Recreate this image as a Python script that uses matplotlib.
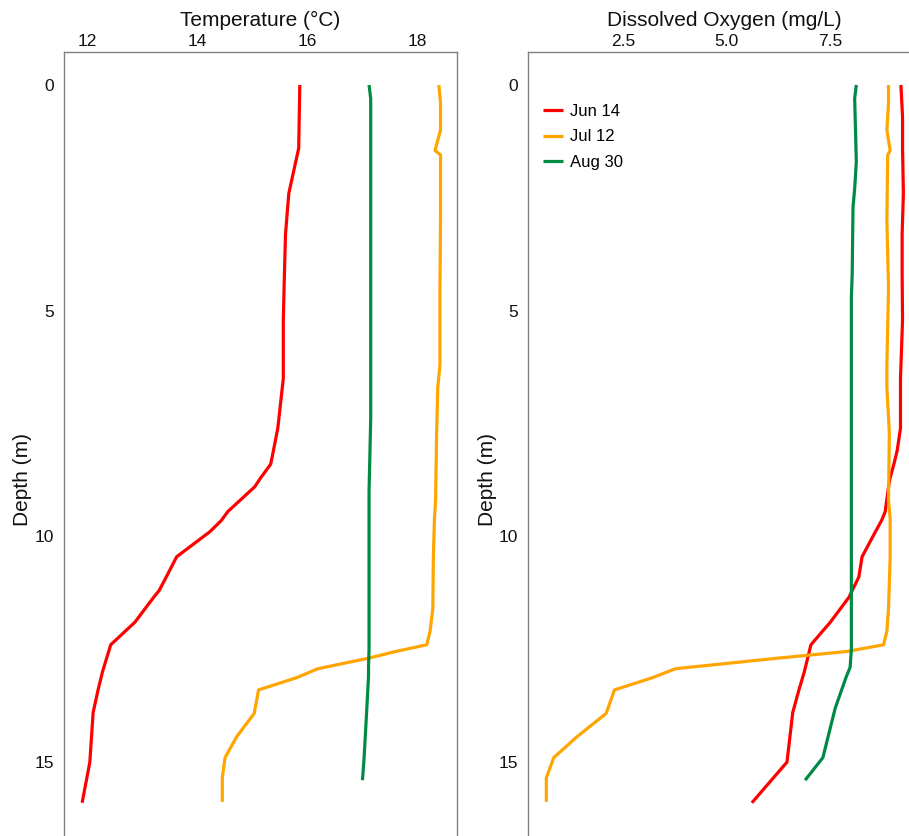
import matplotlib
matplotlib.use("Agg")
import matplotlib.pyplot as plt

plt.rcParams['font.family'] = ['Liberation Sans', 'DejaVu Sans']

# ---------------- data ----------------
dates = ["Jun 14", "Jul 12", "Aug 30"]
colors = ["#FF0000", "#FFA500", "#008B45"]

depth_jun = [0, 0.7, 1.4, 2.4, 3.3, 4.2, 5.2, 6.5, 7.6, 8.1, 8.4, 8.7, 8.9, 9.45, 9.65,
             9.9, 10.45, 10.9, 11.2, 11.35, 11.9, 12.4, 13.0, 13.4, 13.9, 15.0, 15.9]
temp_jun = [15.86, 15.85, 15.84, 15.66, 15.60, 15.58, 15.56, 15.56, 15.46, 15.38, 15.33,
            15.15, 15.04, 14.55, 14.43, 14.22, 13.62, 13.43, 13.30, 13.20, 12.86, 12.42,
            12.27, 12.19, 12.10, 12.04, 11.90]
do_jun = [9.22, 9.26, 9.26, 9.28, 9.25, 9.25, 9.26, 9.21, 9.21, 9.13, 9.05, 8.96, 8.92,
          8.84, 8.75, 8.60, 8.28, 8.20, 8.04, 7.96, 7.51, 7.04, 6.88, 6.75, 6.60, 6.46, 5.61]

depth_jul = [0, 0.4, 1.0, 1.45, 1.55, 3.0, 4.5, 6.2, 6.7, 7.7, 9.2, 9.6, 10.45, 11.6,
             12.1, 12.4, 12.55, 12.7, 12.93, 13.13, 13.4, 13.92, 14.44, 14.9, 15.35, 15.88]
temp_jul = [18.39, 18.42, 18.42, 18.32, 18.42, 18.42, 18.41, 18.41, 18.37, 18.35, 18.33,
            18.31, 18.29, 18.28, 18.23, 18.17, 17.60, 17.10, 16.19, 15.80, 15.11, 15.03,
            14.71, 14.50, 14.45, 14.45]
do_jul = [8.92, 8.92, 8.88, 8.96, 8.90, 8.88, 8.92, 8.88, 8.88, 8.94, 8.92, 8.96, 8.96,
          8.92, 8.88, 8.80, 7.90, 6.20, 3.76, 3.20, 2.28, 2.08, 1.37, 0.81, 0.63, 0.63]

depth_aug = [0, 0.3, 1.7, 2.3, 2.7, 4.2, 4.7, 6.0, 7.4, 9.0, 11.0, 12.5, 12.9, 13.1,
             13.8, 14.9, 15.4]
temp_aug = [17.12, 17.15, 17.15, 17.15, 17.15, 17.15, 17.15, 17.15, 17.15, 17.12, 17.12,
            17.12, 17.11, 17.11, 17.08, 17.03, 17.00]
do_aug = [8.14, 8.10, 8.14, 8.10, 8.06, 8.04, 8.02, 8.02, 8.02, 8.02, 8.02, 8.02, 7.99,
          7.90, 7.63, 7.33, 6.90]

temp_ticks = [12, 14, 16, 18]
do_ticks = [2.5, 5.0, 7.5]
do_tick_labels = ["2.5", "5.0", "7.5"]
depth_ticks = [0, 5, 10, 15]

depths = [depth_jun, depth_jul, depth_aug]
temps = [temp_jun, temp_jul, temp_aug]
dos = [do_jun, do_jul, do_aug]

# ---------------- figure ----------------
W, H = 909, 836
fig = plt.figure(figsize=(W / 100, H / 100), dpi=100)

top_px = 52
bot_px = 875
ax1 = fig.add_axes([64 / W, 1 - bot_px / H, 393 / W, (bot_px - top_px) / H])
ax2 = fig.add_axes([527.7 / W, 1 - bot_px / H, 392.6 / W, (bot_px - top_px) / H])

for d, t, c, lab in zip(depths, temps, colors, dates):
    ax1.plot(t, d, color=c, lw=2.3, solid_capstyle='butt', label=lab)
for d, o, c, lab in zip(depths, dos, colors, dates):
    ax2.plot(o, d, color=c, lw=2.3, solid_capstyle='butt', label=lab)

ylim = (17.5, -0.731)
ax1.set_xlim(11.57, 18.72)
ax2.set_xlim(0.179, 9.69)

for ax in (ax1, ax2):
    ax.set_ylim(*ylim)
    ax.xaxis.set_ticks_position('top')
    ax.xaxis.set_label_position('top')
    ax.set_yticks(depth_ticks)
    ax.set_yticklabels([str(v) for v in depth_ticks])
    ax.tick_params(axis='both', length=0, labelsize=12.5, colors='#111111')
    ax.tick_params(axis='x', pad=2)
    ax.tick_params(axis='y', pad=7)
    for s in ax.spines.values():
        s.set_color('#808080')
        s.set_linewidth(1.0)
    ax.set_ylabel("Depth (m)", fontsize=15, color='#111111')

ax1.set_xticks(temp_ticks)
ax1.set_xticklabels([str(v) for v in temp_ticks])
ax2.set_xticks(do_ticks)
ax2.set_xticklabels(do_tick_labels)

ax1.set_xlabel("Temperature (°C)", fontsize=15, labelpad=6, color='#111111')
ax2.set_xlabel("Dissolved Oxygen (mg/L)", fontsize=15, labelpad=6, color='#111111')

ax1.yaxis.set_label_coords(-32 / 393, 0.48)
ax2.yaxis.set_label_coords(-31 / 392.6, 0.48)

ax2.legend(loc='upper left', bbox_to_anchor=(543 / W, 1 - 104 / H),
           bbox_transform=fig.transFigure, frameon=False, fontsize=12,
           handlelength=1.2, handletextpad=0.45, labelspacing=0.62,
           borderpad=0, borderaxespad=0)

fig.savefig("out.png", dpi=100)
